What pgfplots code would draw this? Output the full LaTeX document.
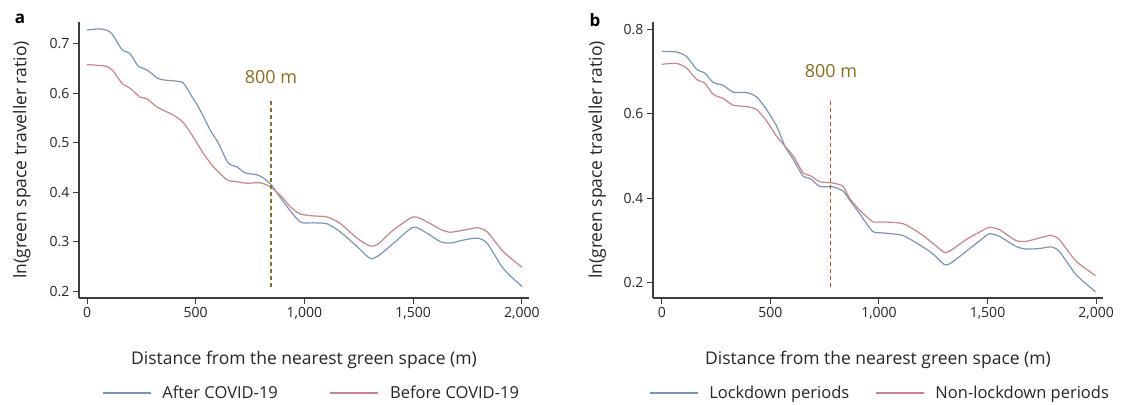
\documentclass[border=0pt]{standalone}
\usepackage{fontspec}
\setmainfont{Open Sans}
\usepackage{pgfplots}
\pgfplotsset{compat=1.18}

\definecolor{cblue}{RGB}{122,150,182}
\definecolor{cred}{RGB}{201,132,137}
\definecolor{cgold}{RGB}{140,108,30}
\definecolor{caxis}{RGB}{60,60,60}

\pgfplotsset{
  panel/.style={
    scale only axis, width=450pt, height=276pt,
    anchor=south west,
    axis x line*=bottom, axis y line*=left,
    axis line style={caxis, line width=1.2pt, -},
    tick style={caxis, line width=1pt},
    tick align=outside, major tick length=6pt,
    xtick={0,500,1000,1500,2000},
    /pgf/number format/assume math mode=true,
    /pgf/number format/1000 sep={,},
    yticklabel style={/pgf/number format/fixed, /pgf/number format/precision=1, /pgf/number format/fixed zerofill},
    tick label style={font=\fontsize{14}{16}\selectfont, text=black!85},
    xlabel={Distance from the nearest green space (m)},
    ylabel={ln(green space traveller ratio)},
    xlabel style={font=\fontsize{17.5}{20}\selectfont, text=black!85},
    ylabel style={font=\fontsize{17.5}{20}\selectfont, text=black!85, rotate=0, anchor=center},
    legend columns=2,
    legend style={draw=none, fill=none, font=\fontsize{16.5}{19}\selectfont, text=black!85,
      inner sep=0pt, anchor=west, cells={anchor=west},
      /tikz/column 1/.style={column sep=9pt}, /tikz/column 3/.style={column sep=9pt}},
    legend image code/.code={\draw[#1] (0pt,0pt) -- (48pt,0pt);},
    every axis plot/.append style={line width=1.2pt},
  }
}

\begin{document}
\begin{tikzpicture}
\path[use as bounding box] (0,0) rectangle (1126pt,-404pt);

% panel a
\begin{axis}[panel, at={(79pt,-298pt)},
  xmin=-37, xmax=2033, ymin=0.186, ymax=0.744,
  ytick={0.2,0.3,0.4,0.5,0.6,0.7},
  xlabel style={at={(axis description cs:0.5,-0.178)}},
  ylabel style={at={(axis description cs:-0.127,0.5)}},
  legend style={at={(axis description cs:0.051,-0.344)}, /tikz/column 2/.style={column sep=50pt}}]
\addplot[cblue, smooth, tension=0.4] coordinates {(0,0.728)(60,0.730)(92,0.727)(115,0.720)(161,0.688)(198,0.680)(235,0.655)(276,0.647)(322,0.631)(350,0.627)(396,0.625)(442,0.621)(483,0.593)(520,0.566)(566,0.526)(603,0.500)(649,0.459)(690,0.451)(727,0.439)(782,0.435)(810,0.429)(851,0.413)(902,0.381)(980,0.340)(1040,0.338)(1104,0.336)(1164,0.320)(1242,0.290)(1302,0.266)(1339,0.271)(1408,0.296)(1500,0.329)(1564,0.317)(1624,0.300)(1670,0.297)(1730,0.303)(1794,0.307)(1840,0.297)(1914,0.246)(2001,0.209)};
\addplot[cred, smooth, tension=0.4] coordinates {(0,0.658)(60,0.656)(92,0.654)(120,0.645)(161,0.620)(198,0.610)(244,0.592)(276,0.589)(322,0.572)(396,0.556)(442,0.541)(488,0.512)(534,0.479)(580,0.452)(644,0.425)(690,0.421)(736,0.418)(796,0.419)(842,0.411)(888,0.394)(934,0.371)(980,0.356)(1040,0.352)(1104,0.350)(1164,0.337)(1242,0.307)(1302,0.291)(1339,0.295)(1408,0.323)(1500,0.350)(1564,0.340)(1624,0.325)(1670,0.319)(1730,0.323)(1794,0.328)(1840,0.320)(1914,0.280)(2001,0.248)};
\addplot[cgold, line width=1.1pt, dash pattern=on 4pt off 3pt, forget plot] coordinates {(846,0.208)(846,0.589)};
\node[text=cgold, font=\fontsize{18}{20}\selectfont] at (axis cs:846,0.633) {800 m};
\legend{After COVID-19, Before COVID-19}
\end{axis}

% panel b
\begin{axis}[panel, at={(653pt,-298pt)},
  xmin=-41, xmax=2032, ymin=0.164, ymax=0.817,
  ytick={0.2,0.4,0.6,0.8},
  xlabel style={at={(axis description cs:0.5,-0.178)}},
  ylabel style={at={(axis description cs:-0.124,0.5)}},
  legend style={at={(axis description cs:-0.009,-0.344)}, /tikz/column 2/.style={column sep=24pt}}]
\addplot[cblue, smooth, tension=0.4] coordinates {(0,0.747)(68,0.746)(114,0.735)(160,0.705)(198,0.696)(236,0.674)(282,0.667)(329,0.651)(390,0.650)(436,0.640)(482,0.610)(528,0.571)(567,0.523)(605,0.492)(651,0.452)(682,0.447)(728,0.428)(789,0.427)(835,0.417)(863,0.397)(909,0.365)(970,0.322)(1017,0.318)(1109,0.312)(1186,0.290)(1247,0.269)(1301,0.243)(1332,0.247)(1401,0.274)(1470,0.302)(1508,0.316)(1554,0.310)(1631,0.286)(1677,0.280)(1739,0.281)(1793,0.285)(1831,0.274)(1908,0.219)(1997,0.179)};
\addplot[cred, smooth, tension=0.4] coordinates {(0,0.717)(68,0.719)(114,0.708)(160,0.681)(198,0.672)(236,0.646)(282,0.636)(329,0.620)(390,0.617)(436,0.610)(482,0.583)(528,0.547)(567,0.523)(605,0.500)(651,0.460)(682,0.454)(728,0.439)(789,0.436)(835,0.428)(863,0.401)(909,0.373)(970,0.345)(1017,0.344)(1109,0.340)(1186,0.318)(1247,0.294)(1301,0.272)(1332,0.277)(1401,0.302)(1470,0.322)(1508,0.331)(1554,0.326)(1631,0.300)(1677,0.298)(1739,0.306)(1793,0.312)(1831,0.302)(1908,0.251)(1997,0.217)};
\addplot[cgold, line width=1.1pt, dash pattern=on 4pt off 3pt, forget plot] coordinates {(775,0.190)(775,0.636)};
\node[text=cgold, font=\fontsize{18}{20}\selectfont] at (axis cs:779,0.700) {800 m};
\legend{Lockdown periods, Non-lockdown periods}
\end{axis}

\node[font=\fontsize{17}{20}\selectfont\bfseries] at (20pt,-19pt) {a};
\node[font=\fontsize{17}{20}\selectfont\bfseries] at (595pt,-20pt) {b};
\end{tikzpicture}
\end{document}
